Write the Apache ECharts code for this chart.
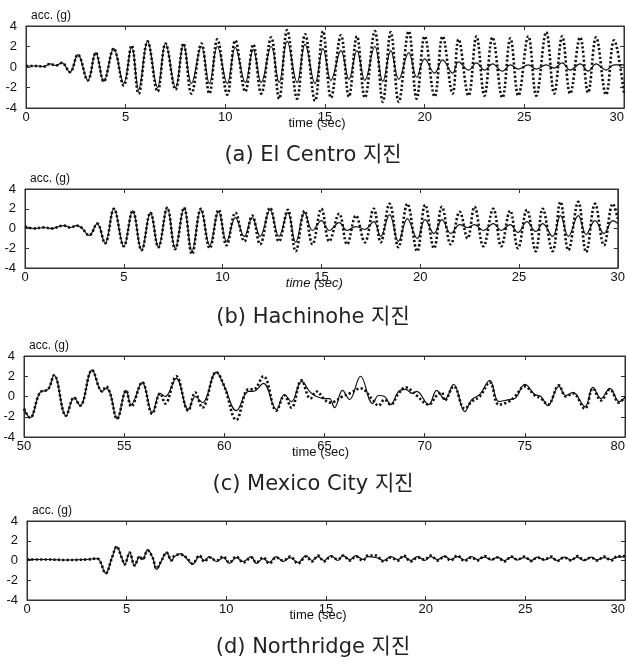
<!DOCTYPE html>
<html>
<head>
<meta charset="utf-8">
<script src="https://cdn.jsdelivr.net/npm/echarts@6/dist/echarts.min.js"></script>
<style>
html,body{margin:0;padding:0;background:#fff;}
#chart{width:628px;height:666px;}
</style>
</head>
<body>
<div id="chart"></div>
<script>
//(a) El Centro  - 피크/골 시각과 값
var aTime = [0,0.5,0.9,1.2,1.5,1.8,2.2,2.6,3.1,3.5, 3.9,4.4,4.9,5.3,5.65,6.1,6.6,7.0,7.5,7.9,
    8.3,8.8,9.2,9.6,10.1,10.5,11.0,11.4,11.8,12.3, 12.7,13.1,13.6,14.0,14.5,14.9,15.3,15.8,16.2,16.6,
    17.0,17.5,17.9,18.3,18.7,19.2,19.6,20.0,20.5,20.9, 21.4,21.7,22.2,22.6,23.0,23.4,23.9,24.3,24.7,25.2,
    25.6,26.1,26.5,26.9,27.3,27.8,28.2,28.6,29.1,29.5, 30.0];
var aSolid = [0.1,0.1,0.05,0.3,0.15,0.4,-0.5,1.2,-1.3,1.4, -1.4,1.8,-1.6,2.0,-2.2,2.5,-2.0,2.3,-2.0,2.2,
    -1.6,2.0,-1.6,2.0,-1.6,1.9,-1.5,1.7,-1.5,2.0, -1.5,2.5,-1.5,2.2,-1.6,1.8,-1.3,1.6,-1.2,1.6,
    -1.3,2.0,-1.4,1.6,-1.2,1.4,-1.0,0.8,-0.6,0.7, -0.6,0.5,-0.3,0.4,-0.3,0.3,-0.4,0.2,-0.2,0.2,
    -0.2,0.2,-0.1,0.4,-0.3,0.3,-0.4,0.3,-0.3,0.2, 0.2];
var aDotted = [0.1,0.1,0.05,0.3,0.15,0.4,-0.5,1.2,-1.3,1.4, -1.4,1.8,-1.8,2.1,-2.6,2.5,-2.4,2.3,-2.2,2.3,
    -2.6,2.3,-2.6,2.7,-2.7,2.6,-2.4,2.2,-2.6,2.9, -3.1,3.6,-3.1,3.2,-3.3,3.5,-3.0,3.1,-2.9,3.0,
    -3.0,3.5,-3.4,3.4,-3.4,3.5,-3.1,3.0,-2.9,3.0, -2.6,2.7,-2.8,3.0,-2.8,2.9,-3.0,2.8,-2.8,3.0,
    -2.8,3.4,-2.6,3.0,-2.6,2.9,-2.5,2.9,-2.7,2.6, -2.6];

//(b) Hachinohe
var bTime = [0,0.45,0.95,1.35,1.95,2.3,2.6,2.85,3.25,3.65, 4.05,4.5,5.0,5.45,5.9,6.35,6.75,7.2,7.6,8.05,
    8.45,8.9,9.35,9.8,10.2,10.65,11.1,11.5,11.9,12.4, 12.85,13.3,13.7,14.15,14.55,15.0,15.4,15.9,16.3,16.75,
    17.2,17.65,18.0,18.45,18.9,19.35,19.85,20.25,20.7,21.1, 21.55,22.0,22.4,22.75,23.2,23.7,24.1,24.55,24.95,25.4,
    25.85,26.2,26.7,27.1,27.5,28.0,28.4,28.85,29.3,29.75, 30.0];
var bSolid = [0.2,0.0,0.1,0.0,0.3,0.1,0.3,0.1,-0.7,0.5, -1.5,2.0,-1.8,1.8,-2.2,1.6,-1.9,2.1,-2.0,2.1,
    -2.3,1.9,-1.7,1.7,-1.3,1.1,-0.8,1.1,-0.8,1.9, -0.8,1.6,-1.4,1.6,-0.2,0.8,-0.2,0.6,-0.2,0.2,
    -0.1,0.7,-0.8,1.4,-1.3,1.0,-1.0,0.9,-0.5,0.9, -0.5,0.4,0.1,0.4,-0.2,0.5,-0.2,0.4,-0.4,0.7,
    -0.3,0.5,-0.8,1.3,-0.8,1.3,-0.6,0.8,-0.5,0.8, 0.5];
var bDotted = [0.2,0.0,0.1,0.0,0.3,0.1,0.3,0.1,-0.7,0.5, -1.5,2.0,-1.8,1.8,-2.2,1.6,-1.9,2.1,-2.1,2.1,
    -2.6,2.0,-2.0,1.9,-1.7,1.6,-1.3,1.3,-1.6,2.1, -1.3,1.9,-2.3,1.8,-1.6,2.0,-1.3,1.5,-1.6,1.3,
    -1.4,2.0,-1.4,2.5,-1.9,2.5,-2.3,2.4,-2.0,2.2, -1.6,1.7,-1.0,2.2,-1.8,2.0,-1.8,1.8,-2.0,1.9,
    -2.3,2.0,-2.3,2.7,-2.2,2.7,-2.4,2.5,-1.7,2.5, 1.0];

//(c) Mexico City
var cTime = [50.0,50.3,50.8,51.2,51.5,52.1,52.5,52.8,53.4,53.9, 54.1,54.3,54.65,55.1,55.35,55.9,56.4,56.8,57.05,57.6,
    58.2,58.55,58.9,59.6,60.0,60.6,61.2,61.45,61.95,62.6, 63.0,63.35,63.85,64.3,64.6,65.0,65.25,65.5,65.9,66.25,
    66.8,67.4,67.7,68.0,68.3,68.7,69.05,69.4,69.6,70.2, 70.6,70.85,71.0,71.45,72.0,72.35,72.75,73.25,73.7,74.2,
    74.5,75.0,75.5,75.8,76.15,76.7,77.05,77.4,78.0,78.4, 78.8,79.25,79.7,80.0];
var cSolid = [-1.2,-2.1,0.4,0.7,2.1,-1.9,-0.1,-0.9,2.6,0.5, 0.8,0.3,-2.2,0.6,-0.8,1.4,-1.6,0.3,0.0,1.8,
    -1.3,0.0,-0.6,2.4,1.0,-1.4,0.5,0.5,1.3,-1.3, 0.2,-0.5,1.5,0.4,0.0,-0.2,-0.2,-1.1,0.6,-0.3,
    2.0,-0.7,0.1,0.0,-0.8,0.5,0.7,0.3,0.5,-0.8, 0.6,0.0,-0.3,1.2,-1.5,-0.3,0.2,1.6,-0.5,-0.3,
    -0.2,1.2,0.2,0.0,-0.9,1.0,0.1,0.4,-1.0,0.9, -0.2,0.8,-0.5,-0.1];
var cDotted = [-1.2,-2.1,0.4,0.7,2.1,-1.9,-0.1,-0.9,2.6,0.5, 1.0,0.3,-2.2,0.6,-1.0,1.4,-1.7,0.3,-0.7,2.0,
    -1.4,0.4,-1.1,2.4,1.0,-2.3,0.7,0.7,2.0,-1.4, 0.1,-1.1,1.6,-0.2,0.5,-0.3,-0.6,-0.5,0.0,0.3,
    0.8,-0.3,-0.9,-0.3,-0.8,0.3,0.9,0.5,0.1,-0.8, 0.1,0.4,-0.4,1.0,-1.2,-0.5,0.0,1.4,-0.8,-0.5,
    0.0,1.0,0.1,-0.2,-0.8,1.1,0.0,0.3,-1.2,0.8, -0.4,0.7,-0.6,0.0];

//(d) Northridge
var dTime = [0,1,2,3,3.5,3.65,3.95,4.25,4.5,4.75, 4.9,5.15,5.4,5.65,5.8,6.05,6.3,6.5,6.75,7.0,
    7.25,7.4,7.7,8.0,8.3,8.65,8.9,9.15,9.5,9.85, 10.15,10.5,10.85,11.25,11.5,11.85,12.15,12.5,12.85,13.2,
    13.6,14.0,14.3,14.6,14.9,15.25,15.6,15.85,16.2,16.5, 16.85,17.1,17.5,17.9,18.25,18.6,18.9,19.25,19.6,19.95,
    20.25,20.6,20.95,21.25,21.6,21.95,22.3,22.6,22.95,23.3, 23.6,23.95,24.3,24.6,24.95,25.3,25.6,25.95,26.3,26.6,
    26.95,27.3,27.6,27.95,28.3,28.6,28.95,29.3,29.6,30.0];
var dSolid = [0.1,0.1,0.05,0.1,0.2,0.0,-1.3,0.2,1.4,0.3, -0.4,0.8,-0.5,0.4,0.1,1.1,0.3,-0.9,0.0,0.8,
    0.0,0.4,0.7,0.2,-0.4,0.4,0.0,0.4,-0.1,0.3, -0.3,0.3,-0.1,0.4,-0.3,0.2,-0.2,0.4,-0.1,0.3,
    -0.2,0.5,0.0,0.4,0.0,0.5,0.0,0.5,0.1,0.5, 0.1,0.4,0.3,0.0,0.4,0.1,0.4,0.0,0.4,0.0,
    0.4,0.1,0.45,0.1,0.4,0.05,0.4,0.1,0.35,0.05, 0.35,0.0,0.35,0.05,0.3,0.0,0.35,0.05,0.3,0.0,
    0.35,0.05,0.35,0.0,0.35,0.05,0.3,0.1,0.35,0.4];
var dDotted = [0.1,0.1,0.05,0.1,0.2,0.0,-1.3,0.2,1.4,0.3, -0.4,0.8,-0.5,0.4,0.1,1.0,0.3,-0.8,0.0,0.8,
    0.0,0.5,0.6,0.3,-0.3,0.5,-0.1,0.3,0.0,0.4, -0.2,0.4,-0.2,0.3,-0.2,0.3,-0.3,0.3,0.0,0.4,
    -0.3,0.4,-0.1,0.5,-0.1,0.4,0.1,0.5,0.0,0.4, 0.0,0.5,0.5,-0.1,0.3,0.0,0.5,-0.1,0.3,0.1,
    0.5,0.0,0.4,0.0,0.5,-0.05,0.3,0.0,0.45,0.1, 0.3,-0.1,0.4,0.1,0.4,-0.05,0.3,0.1,0.4,-0.05,
    0.3,0.0,0.45,0.05,0.3,0.0,0.4,0.0,0.4,0.45];

var captions = ['(a) El Centro 지진', '(b) Hachinohe 지진', '(c) Mexico City 지진', '(d) Northridge 지진'];
var yTicks = [-4, 4, 2];   // min, max, interval

var font = 'Liberation Sans, Arial, sans-serif';
var ink = '#111';

// 패널 위치
var panels = [
    {left:26, top:26, width:598, height:82, xmin:0, xmax:30, t:aTime, s:aSolid, d:aDotted, shift:16, italic:false, capY:156, align:'right'},
    {left:25, top:189, width:602, height:79, xmin:0, xmax:30, t:bTime, s:bSolid, d:bDotted, shift:14, italic:true, capY:318, align:'center'},
    {left:24, top:356, width:602, height:81, xmin:50, xmax:80, t:cTime, s:cSolid, d:cDotted, shift:8, italic:false, capY:485, align:'right'},
    {left:27, top:521, width:598, height:79, xmin:0, xmax:30, t:dTime, s:dSolid, d:dDotted, shift:16, italic:false, capY:648, align:'right'}
];

function zip(t, v) {
    return t.map(function (x, i) { return [x, v[i]]; });
}

var grid = [], xAxis = [], yAxis = [], series = [], graphic = [];
panels.forEach(function (p, i) {
    grid.push({left:p.left, top:p.top, width:p.width, height:p.height, show:true, borderColor:'#333', borderWidth:1});
    var axLine = {show:true, onZero:false, lineStyle:{color:'#333', width:1}};
    var tick = {show:true, inside:true, length:4, lineStyle:{color:'#333'}};
    xAxis.push({
        type:'value', gridIndex:i, position:'bottom', min:p.xmin, max:p.xmax, interval:5,
        axisLine:axLine, axisTick:tick, splitLine:{show:false},
        axisLabel:{color:ink, fontSize:13, fontFamily:font, margin:3, alignMaxLabel:p.align},
        name:'time (sec)', nameLocation:'middle', nameGap:9, nameMoveOverlap:false,
        nameTextStyle:{color:ink, fontSize:13, fontFamily:font, fontStyle:p.italic ? 'italic' : 'normal',
            padding:[0, p.shift, 0, 0]}
    });
    xAxis.push({
        type:'value', gridIndex:i, position:'top', min:p.xmin, max:p.xmax, interval:5,
        axisLine:axLine, axisTick:tick, axisLabel:{show:false}, splitLine:{show:false}
    });
    yAxis.push({
        type:'value', gridIndex:i, position:'left', min:yTicks[0], max:yTicks[1], interval:yTicks[2],
        axisLine:axLine, axisTick:tick, splitLine:{show:false},
        axisLabel:{color:ink, fontSize:13, fontFamily:font, margin:9},
        name:'acc. (g)', nameLocation:'end', nameGap:4, nameMoveOverlap:false,
        nameTextStyle:{color:ink, fontSize:12, fontFamily:font, align:'left', padding:[0, 0, 0, 5]}
    });
    yAxis.push({
        type:'value', gridIndex:i, position:'right', min:yTicks[0], max:yTicks[1], interval:yTicks[2],
        axisLine:axLine, axisTick:tick, axisLabel:{show:false}, splitLine:{show:false}
    });
    series.push({
        type:'line', xAxisIndex:2 * i, yAxisIndex:2 * i, data:zip(p.t, p.s),
        showSymbol:false, smooth:0.4, lineStyle:{color:ink, width:1.2}, silent:true
    });
    series.push({
        type:'line', xAxisIndex:2 * i, yAxisIndex:2 * i, data:zip(p.t, p.d),
        showSymbol:false, smooth:0.4, lineStyle:{color:ink, width:2.6, type:[2.2, 2.2]}, silent:true
    });
    graphic.push({
        type:'text', x:313, y:p.capY,
        style:{text:captions[i], fill:'#222', font:'21px "DejaVu Sans", "Noto Sans CJK KR", sans-serif',
            textAlign:'center', textVerticalAlign:'middle'}
    });
});

var chart = echarts.init(document.getElementById('chart'));
chart.setOption({
    animation:false,
    grid:grid,
    xAxis:xAxis,
    yAxis:yAxis,
    series:series,
    graphic:graphic
});
</script>
</body>
</html>
